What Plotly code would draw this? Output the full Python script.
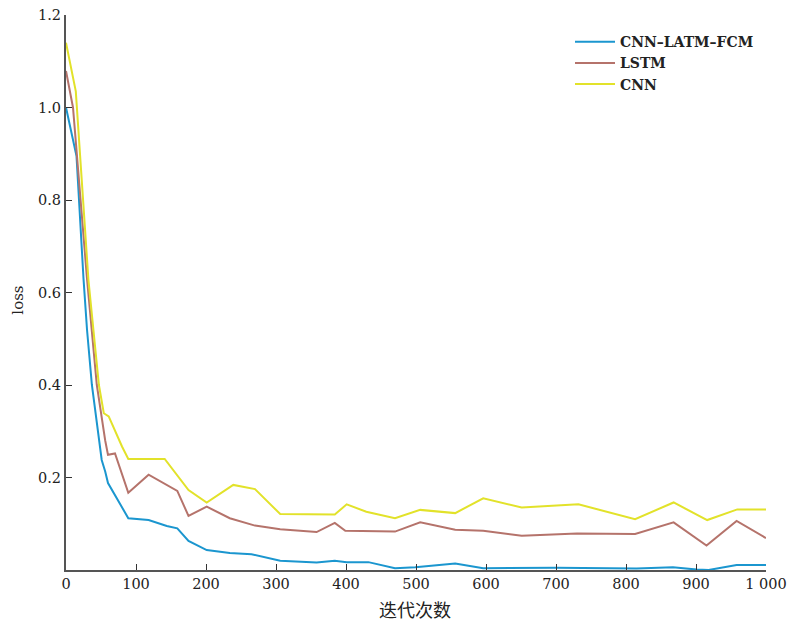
import plotly.graph_objects as go

# Data
x_fcm = [0, 15, 25, 30, 37, 45, 51, 56, 60, 89, 118, 144, 159, 175, 201, 234, 265, 306, 358, 384, 401, 432, 470, 499, 556, 596, 700, 815, 867, 901, 918, 958, 1000]
y_fcm = [1.0, 0.895, 0.63, 0.52, 0.40, 0.30, 0.238, 0.213, 0.188, 0.112, 0.108, 0.095, 0.090, 0.063, 0.043, 0.037, 0.034, 0.020, 0.016, 0.020, 0.017, 0.017, 0.004, 0.006, 0.014, 0.004, 0.005, 0.003, 0.006, 0.001, 0.0, 0.011, 0.011]

x_lstm = [0, 10, 30, 44, 56, 60, 70, 89, 118, 159, 175, 201, 234, 270, 306, 358, 384, 399, 470, 506, 556, 596, 651, 730, 813, 868, 915, 958, 1000]
y_lstm = [1.079, 1.0, 0.63, 0.40, 0.28, 0.249, 0.252, 0.167, 0.206, 0.171, 0.117, 0.137, 0.112, 0.096, 0.088, 0.082, 0.102, 0.085, 0.083, 0.103, 0.087, 0.085, 0.074, 0.079, 0.078, 0.103, 0.053, 0.106, 0.069]

x_cnn = [0, 14, 32, 47, 54, 61, 80, 89, 141, 175, 201, 239, 270, 306, 384, 401, 429, 470, 506, 556, 596, 651, 732, 813, 868, 916, 959, 1000]
y_cnn = [1.14, 1.035, 0.628, 0.40, 0.339, 0.332, 0.267, 0.240, 0.240, 0.173, 0.146, 0.184, 0.175, 0.121, 0.120, 0.142, 0.126, 0.112, 0.130, 0.123, 0.155, 0.135, 0.142, 0.110, 0.146, 0.108, 0.131, 0.131]

names = ["CNN–LATM–FCM", "LSTM", "CNN"]
colors = ["#1b96cf", "#b5736b", "#e2e22a"]

x_ticks = [0, 100, 200, 300, 400, 500, 600, 700, 800, 900, 1000]
x_tick_labels = ["0", "100", "200", "300", "400", "500", "600", "700", "800", "900", "1 000"]
y_ticks = [0.2, 0.4, 0.6, 0.8, 1.0, 1.2]
y_tick_labels = ["0.2", "0.4", "0.6", "0.8", "1.0", "1.2"]

serif = "DejaVu Serif"

fig = go.Figure()
for xs, ys, n, c in zip([x_fcm, x_lstm, x_cnn], [y_fcm, y_lstm, y_cnn], names, colors):
    fig.add_trace(go.Scatter(x=xs, y=ys, mode="lines", name=n,
                             line=dict(color=c, width=2)))

fig.update_layout(
    width=793, height=623,
    margin=dict(l=66, r=27, t=15, b=53),
    paper_bgcolor="white", plot_bgcolor="white",
    showlegend=True,
    legend=dict(x=0.72, y=0.98, xanchor="left", yanchor="top",
                font=dict(family=serif, size=14, color="#222", weight="bold"),
                bgcolor="rgba(0,0,0,0)", tracegroupgap=0, itemwidth=40),
    xaxis=dict(range=[0, 1000], tickvals=x_ticks, ticktext=x_tick_labels,
               automargin=False, ticklabeloverflow="allow",
               showgrid=False, zeroline=False, showline=True, linecolor="#555",
               linewidth=2, ticks="inside", ticklen=6, tickcolor="#333",
               tickfont=dict(family=serif, size=14.5, color="#222")),
    yaxis=dict(range=[0, 1.2], tickvals=y_ticks, ticktext=y_tick_labels,
               automargin=False, ticklabeloverflow="allow",
               showgrid=False, zeroline=False, showline=True, linecolor="#555",
               linewidth=2, ticks="inside", ticklen=6, tickcolor="#333",
               tickfont=dict(family=serif, size=14.5, color="#222")),
    annotations=[
        dict(text="迭代次数", xref="paper", yref="paper", x=0.499, y=-0.07,
             xanchor="center", yanchor="middle", showarrow=False,
             font=dict(family="Noto Sans CJK SC", size=18, color="#222")),
        dict(text="loss", xref="paper", yref="paper", x=-0.068, y=0.486,
             xanchor="center", yanchor="middle", showarrow=False, textangle=-90,
             font=dict(family=serif, size=15, color="#222")),
    ],
)

fig.write_html("out.html", config={"displayModeBar": False},
               post_script="document.body.style.margin='0';document.body.style.overflow='hidden';")
